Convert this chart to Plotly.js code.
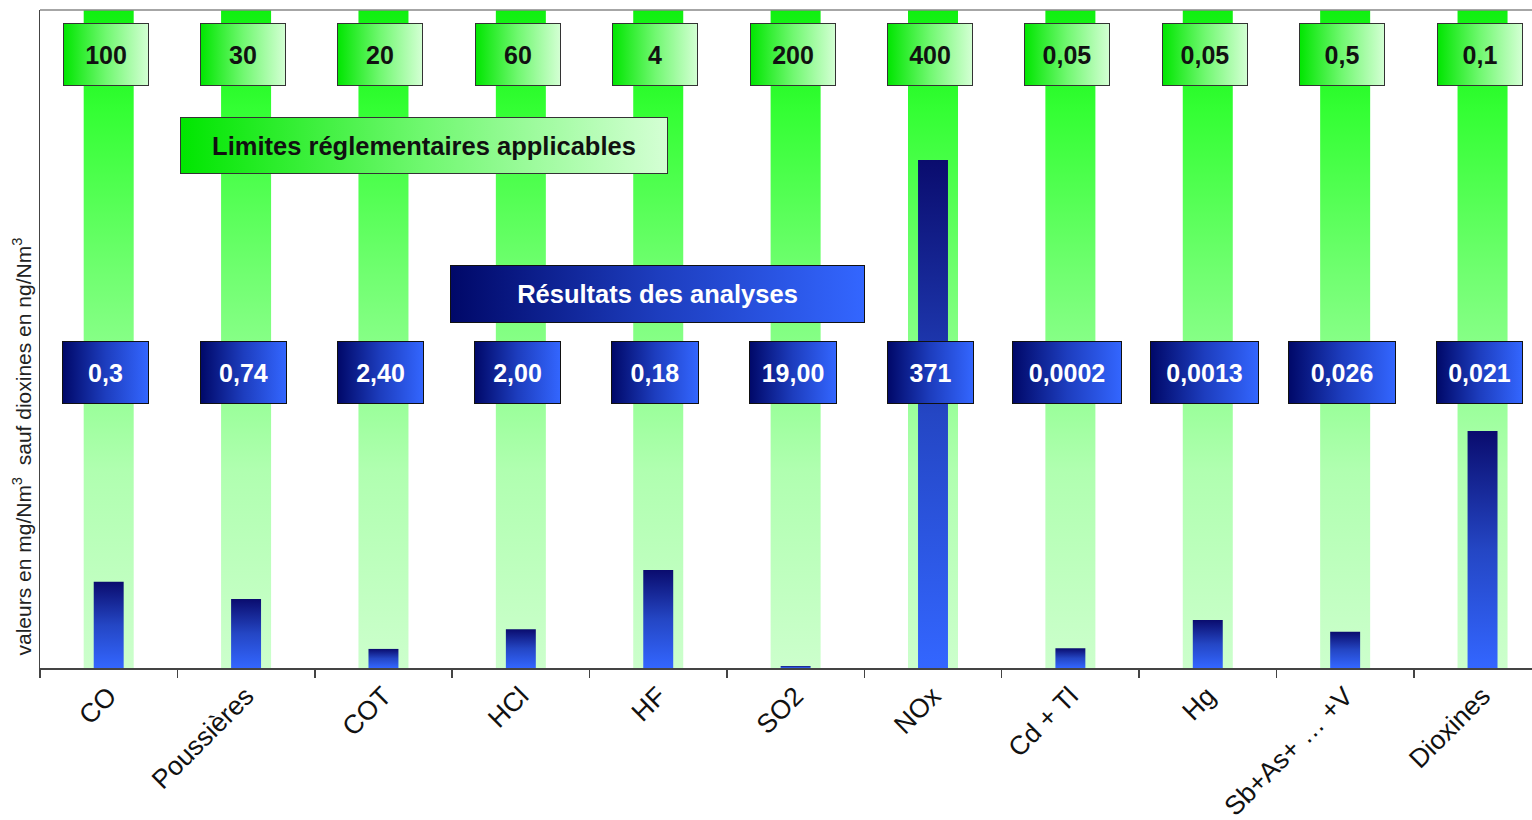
<!DOCTYPE html>
<html>
<head>
<meta charset="utf-8">
<script src="https://cdn.plot.ly/plotly-3.0.1.min.js"></script>
<style>
html, body { margin: 0; padding: 0; background: #ffffff; }
#chart { width: 1532px; height: 820px; }
</style>
</head>
<body>
<svg width="0" height="0" style="position:absolute">
  <defs>
    <linearGradient id="gGreenBar" x1="0" y1="0" x2="0" y2="1">
      <stop offset="0" stop-color="#10F010"/>
      <stop offset="0.15" stop-color="#33FF33"/>
      <stop offset="0.4" stop-color="#70FF70"/>
      <stop offset="0.7" stop-color="#B0FFB0"/>
      <stop offset="1" stop-color="#CCFFCC"/>
    </linearGradient>
    <linearGradient id="gBlueBar" x1="0" y1="0" x2="0" y2="1">
      <stop offset="0" stop-color="#0A0C6E"/>
      <stop offset="0.5" stop-color="#2446C4"/>
      <stop offset="1" stop-color="#3366FF"/>
    </linearGradient>
    <linearGradient id="gGreenBox" x1="0" y1="0" x2="1" y2="0">
      <stop offset="0" stop-color="#00E600"/>
      <stop offset="0.5" stop-color="#70F870"/>
      <stop offset="1" stop-color="#D4FFD4"/>
    </linearGradient>
    <linearGradient id="gBlueBox" x1="0" y1="0" x2="1" y2="0">
      <stop offset="0" stop-color="#000868"/>
      <stop offset="0.5" stop-color="#1D3DBE"/>
      <stop offset="1" stop-color="#3366FF"/>
    </linearGradient>
  </defs>
</svg>
<div id="chart"></div>
<script>
// ---- data ----
const categories = ['CO', 'Poussières', 'COT', 'HCl', 'HF', 'SO2', 'NOx', 'Cd + Tl', 'Hg', 'Sb+As+ … +V', 'Dioxines'];
const limitLabels = ['100', '30', '20', '60', '4', '200', '400', '0,05', '0,05', '0,5', '0,1'];
const resultLabels = ['0,3', '0,74', '2,40', '2,00', '0,18', '19,00', '371', '0,0002', '0,0013', '0,026', '0,021'];
const limitHeights = [100, 100, 100, 100, 100, 100, 100, 100, 100, 100, 100];
const resultHeights = [13.1, 10.5, 2.9, 5.9, 14.9, 0.3, 77.2, 3.0, 7.3, 5.5, 36.0];
const legendLimits = 'Limites réglementaires applicables';
const legendResults = 'Résultats des analyses';
const yTitle = 'valeurs en mg/Nm<sup>3</sup>\u00a0 sauf dioxines en ng/Nm<sup>3</sup>';

// ---- styling ----
const FONT = 'Liberation Sans, Arial, Helvetica, sans-serif';
const RESULT_BOX_W = [85, 85, 85, 85, 86, 86, 85, 108, 107, 106, 85];

const data = [
  {
    type: 'bar', x: categories, y: limitHeights, width: 0.364,
    marker: { color: '#66FF66', line: { width: 0 } },
    hoverinfo: 'skip'
  },
  {
    type: 'bar', x: categories, y: resultHeights, width: 0.218,
    marker: { color: '#2446C4', line: { width: 0 } },
    hoverinfo: 'skip'
  }
];

const annotations = [];
const annGrad = [];
categories.forEach((c, i) => {
  annotations.push({
    x: i, y: 93.3, xref: 'x', yref: 'y', xshift: -3, xanchor: 'center', yanchor: 'middle',
    text: '<b>' + limitLabels[i] + '</b>', showarrow: false,
    width: 84, height: 61, borderpad: 0, borderwidth: 1, bordercolor: '#333333',
    bgcolor: '#70F870', font: { family: FONT, size: 25, color: '#111111' }
  });
  annGrad.push('gGreenBox');
  annotations.push({
    x: i, y: 44.9, xref: 'x', yref: 'y', xshift: -3, xanchor: 'center', yanchor: 'middle',
    text: '<b>' + resultLabels[i] + '</b>', showarrow: false,
    width: RESULT_BOX_W[i], height: 61, borderpad: 0, borderwidth: 1, bordercolor: '#111111',
    bgcolor: '#1D3DBE', font: { family: FONT, size: 25, color: '#ffffff' }
  });
  annGrad.push('gBlueBox');
});
annotations.push({
  x: 0.2574, y: 0.7948, xref: 'paper', yref: 'paper', xanchor: 'center', yanchor: 'middle',
  text: '<b>' + legendLimits + '</b>', showarrow: false,
  width: 486, height: 55, borderpad: 0, borderwidth: 1, bordercolor: '#333333',
  bgcolor: '#70F870', font: { family: FONT, size: 25.5, color: '#111111' }
});
annGrad.push('gGreenBox');
annotations.push({
  x: 0.4139, y: 0.5691, xref: 'paper', yref: 'paper', xanchor: 'center', yanchor: 'middle',
  text: '<b>' + legendResults + '</b>', showarrow: false,
  width: 413, height: 56, borderpad: 0, borderwidth: 1, bordercolor: '#111111',
  bgcolor: '#1D3DBE', font: { family: FONT, size: 25.5, color: '#ffffff' }
});
annGrad.push('gBlueBox');
annotations.push({
  x: 0, y: 0.3366, xref: 'paper', yref: 'paper', xshift: -18,
  xanchor: 'center', yanchor: 'middle', textangle: -90,
  text: yTitle, showarrow: false,
  font: { family: FONT, size: 21, color: '#222222' }
});
annGrad.push(null);

const layout = {
  width: 1532, height: 820,
  margin: { l: 40, r: 0, t: 10, b: 152 },
  paper_bgcolor: '#ffffff', plot_bgcolor: '#ffffff',
  barmode: 'overlay',
  showlegend: false,
  font: { family: FONT, color: '#111111' },
  xaxis: {
    type: 'category', range: [-0.5, 10.36],
    tickangle: -45, tickfont: { family: FONT, size: 26.5, color: '#111111' },
    ticks: 'outside', tickson: 'boundaries', ticklen: 8, tickwidth: 1.5, tickcolor: '#444444',
    showline: true, linecolor: '#444444', linewidth: 2,
    showgrid: false, zeroline: false, fixedrange: true
  },
  yaxis: {
    range: [0, 100], showticklabels: false, ticks: '',
    showline: true, linecolor: '#444444', linewidth: 1.5,
    showgrid: false, zeroline: false, fixedrange: true
  },
  shapes: [
    { type: 'line', xref: 'paper', yref: 'paper', x0: 0, x1: 1, y0: 1, y1: 1,
      line: { color: '#888888', width: 1.5 }, layer: 'above' }
  ],
  annotations: annotations
};

Plotly.newPlot('chart', data, layout, { staticPlot: true, displayModeBar: false }).then(gd => {
  const traces = gd.querySelectorAll('.barlayer .trace');
  if (traces[0]) traces[0].querySelectorAll('.point path').forEach(p => { p.style.fill = 'url(#gGreenBar)'; });
  if (traces[1]) traces[1].querySelectorAll('.point path').forEach(p => { p.style.fill = 'url(#gBlueBar)'; });
  gd.querySelectorAll('.annotation').forEach(a => {
    const idx = +a.getAttribute('data-index');
    const g = annGrad[idx];
    if (g) {
      const r = a.querySelector('rect.bg');
      if (r) r.style.fill = 'url(#' + g + ')';
    }
  });
});
</script>
</body>
</html>
